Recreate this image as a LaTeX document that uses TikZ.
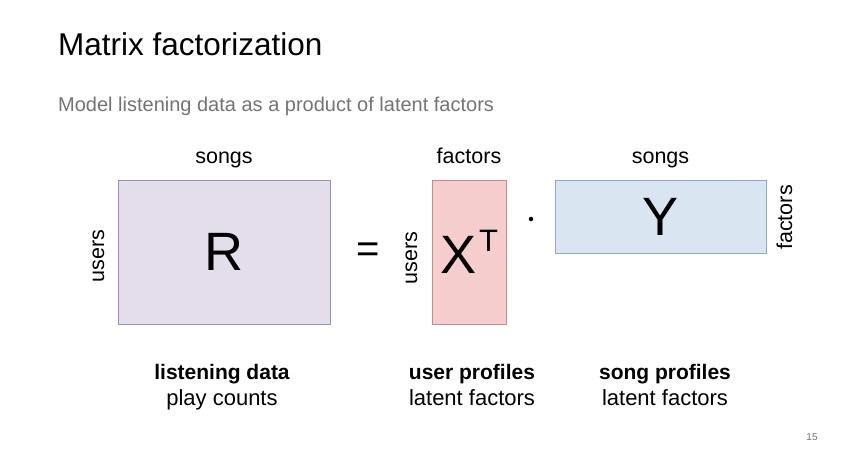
\documentclass[tikz,border=0pt]{standalone}
\usepackage{fontspec}
\setmainfont{Liberation Sans}
\usepackage{tikz}
\usetikzlibrary{positioning, calc}
\definecolor{rfill}{HTML}{E4DDEC}
\definecolor{rdraw}{HTML}{9A93AE}
\definecolor{xfill}{HTML}{F4CDCC}
\definecolor{xdraw}{HTML}{C98A88}
\definecolor{yfill}{HTML}{DAE5F2}
\definecolor{ydraw}{HTML}{8EA9C9}
\definecolor{subgray}{HTML}{737373}
\tikzstyle{matbox}=[rectangle,thick,inner sep=0pt,font=\fontsize{54}{60}\selectfont]
\tikzstyle{rmat}=[matbox, fill=rfill, draw=rdraw, minimum width=212pt, minimum height=144pt]
\tikzstyle{xmat}=[matbox, fill=xfill, draw=xdraw, minimum width=74pt, minimum height=144pt]
\tikzstyle{ymat}=[matbox, fill=yfill, draw=ydraw, minimum width=211pt, minimum height=73pt]
\tikzstyle{dimlabel}=[inner sep=0pt,font=\fontsize{21.5}{24}\selectfont]
\tikzstyle{sidelabel}=[dimlabel, rotate=90]
\tikzstyle{capbold}=[inner sep=0pt,anchor=base,font=\bfseries\fontsize{21}{24}\selectfont]
\tikzstyle{capplain}=[inner sep=0pt,anchor=base,font=\fontsize{22}{24}\selectfont]

\begin{document}
\begin{tikzpicture}[x=1pt, y=-1pt, node distance = 16pt and 12pt]
    \useasboundingbox (0,0) rectangle (848,455);
    \node[anchor=base west, inner sep=0pt, font=\fontsize{31.5}{36}\selectfont] (title) at (58,55) {Matrix factorization};
    \node[anchor=base west, inner sep=0pt, text=subgray, font=\fontsize{20}{24}\selectfont] (sub) at (58,111) {Model listening data as a product of latent factors};

    % matrices
    \node[rmat] (R) at (224,252) {R};
    \node[xmat] (X) at (469,252) {X\hspace{3pt}\raisebox{22pt}{\fontsize{31}{31}\selectfont T}};
    \node[ymat] (Y) at (660.5,216.5) {Y};

    % dimensions
    \node[dimlabel, above=of R, anchor=base] (Rtop) {songs};
    \node[dimlabel, above=of X, anchor=base] (Xtop) {factors};
    \node[dimlabel, above=of Y, anchor=base] (Ytop) {songs};
    \node[sidelabel, anchor=south] (Rleft) at ($(R.west)+(-13,4)$) {users};
    \node[sidelabel, anchor=south] (Xleft) at ($(X.west)+(-14,6)$) {users};
    \node[sidelabel, anchor=north] (Yright) at ($(Y.east)+(10,1)$) {factors};

    \node[inner sep=0pt, anchor=base, font=\fontsize{40}{40}\selectfont] (eq) at (368.5,262) {=};
    \node[circle, fill=black, inner sep=0pt, minimum size=4.5pt] (dot) at (531,219) {};

    % captions
    \node[capbold] (Rname) at (222,379) {listening data};
    \node[capplain, below=26pt of Rname.base, anchor=base] (Rdesc) {play counts};
    \node[capbold] (Xname) at (472,379) {user profiles};
    \node[capplain, below=26pt of Xname.base, anchor=base] (Xdesc) {latent factors};
    \node[capbold] (Yname) at (665,379) {song profiles};
    \node[capplain, below=26pt of Yname.base, anchor=base] (Ydesc) {latent factors};

    \node[inner sep=0pt, text=subgray, font=\fontsize{10}{12}\selectfont] (page) at (812,437) {15};
\end{tikzpicture}
\end{document}
